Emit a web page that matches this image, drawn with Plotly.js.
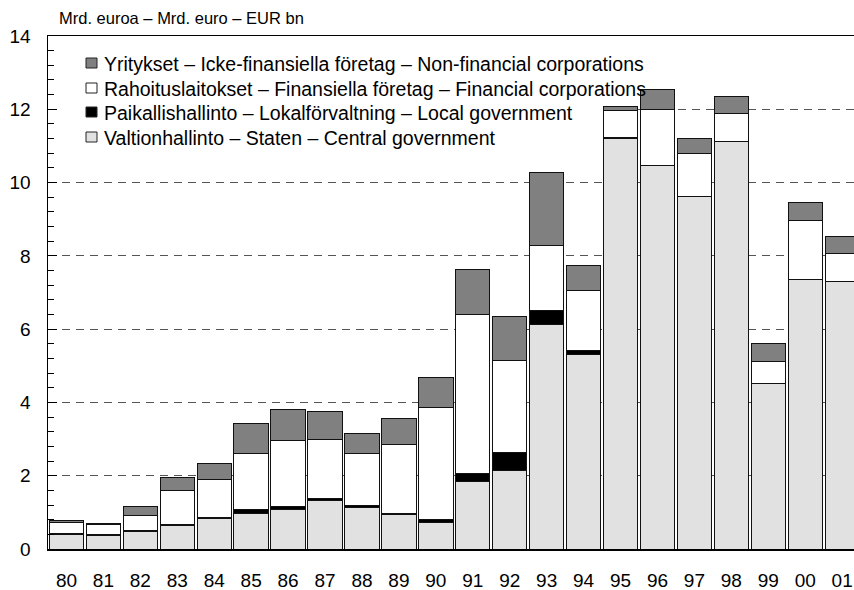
<!DOCTYPE html>
<html>
<head>
<meta charset="utf-8">
<script src="https://cdn.plot.ly/plotly-3.0.1.min.js"></script>
<style>html,body{margin:0;padding:0;background:#fff;}#chart{width:854px;height:590px;}</style>
</head>
<body>
<div id="chart"></div>
<script>
const years = ["80","81","82","83","84","85","86","87","88","89","90","91","92","93","94","95","96","97","98","99","00","01"];
const central = [0.40,0.38,0.49,0.65,0.84,0.98,1.07,1.33,1.13,0.93,0.72,1.84,2.15,6.13,5.30,11.20,10.46,9.63,11.13,4.51,7.36,7.31];
const local   = [0.01,0.01,0.01,0.01,0.02,0.11,0.09,0.06,0.06,0.05,0.09,0.23,0.48,0.39,0.11,0.02,0.00,0.00,0.00,0.00,0.00,0.00];
const financial = [0.31,0.27,0.41,0.94,1.04,1.51,1.79,1.59,1.42,1.86,3.06,4.32,2.52,1.76,1.65,0.76,1.54,1.17,0.76,0.61,1.61,0.76];
const nonfinancial = [0.07,0.03,0.24,0.35,0.43,0.83,0.85,0.77,0.53,0.72,0.81,1.24,1.19,1.99,0.69,0.10,0.55,0.41,0.46,0.49,0.48,0.45];
const seriesNames = [
  "Valtionhallinto – Staten – Central government",
  "Paikallishallinto – Lokalförvaltning – Local government",
  "Rahoituslaitokset – Finansiella företag – Financial corporations",
  "Yritykset – Icke-finansiella företag – Non-financial corporations"
];
const seriesColors = ["#e1e1e1","#000000","#ffffff","#808080"];
const unitTitle = "Mrd. euroa – Mrd. euro – EUR bn";

const W = 854, H = 590;
const M = {l:48, r:0, t:36, b:41};
const PW = W - M.l - M.r, PH = H - M.t - M.b;
const px = x => (x - M.l) / PW;
const py = y => (H - M.b - y) / PH;

const FONT = '"Liberation Sans", Arial, sans-serif';
const values = [central, local, financial, nonfinancial];

const traces = values.map((v, i) => ({
  type: 'bar',
  x: years,
  y: v,
  name: seriesNames[i],
  marker: {color: seriesColors[i], line: {color: '#111', width: 1}},
  showlegend: false,
  hoverinfo: 'x+y+name'
}));

// legend background box (hides the gridline behind the legend)
const shapes = [{
  type: 'rect', xref: 'paper', yref: 'paper', layer: 'above',
  x0: px(57), x1: px(602), y0: py(160), y1: py(44),
  fillcolor: '#ffffff', line: {width: 0}
}];
const annotations = [];
const legendOrder = [3, 2, 1, 0];
const rowY = [63, 88, 112, 137];
legendOrder.forEach((si, r) => {
  const cy = rowY[r];
  shapes.push({
    type: 'rect', xref: 'paper', yref: 'paper', layer: 'above',
    x0: px(86), x1: px(97), y0: py(cy + 5), y1: py(cy - 5),
    fillcolor: seriesColors[si], line: {color: '#222', width: 1}
  });
  annotations.push({
    xref: 'paper', yref: 'paper', x: px(102), y: py(cy + 1),
    xanchor: 'left', yanchor: 'middle', showarrow: false,
    text: seriesNames[si], font: {family: FONT, size: 19.5, color: '#000'}
  });
});

const layout = {
  width: W, height: H,
  margin: M,
  paper_bgcolor: '#fff', plot_bgcolor: '#fff',
  barmode: 'stack',
  bargap: 0.07,
  font: {family: FONT, color: '#000'},
  title: {
    text: unitTitle, xref: 'container', yref: 'container',
    x: 59 / W, xanchor: 'left', y: 1 - 18 / H, yanchor: 'middle',
    font: {family: FONT, size: 16.5, color: '#000'}
  },
  xaxis: {
    type: 'category',
    range: [-0.5, 21.32],
    showline: true, linecolor: '#000', linewidth: 1.5,
    mirror: true,
    ticks: '', showgrid: false,
    ticklabelstandoff: 14,
    tickfont: {family: FONT, size: 19, color: '#000'},
    fixedrange: true
  },
  yaxis: {
    range: [0, 14],
    dtick: 2, tick0: 0,
    showline: true, linecolor: '#000', linewidth: 1.5,
    ticks: 'inside', ticklen: 9, tickcolor: '#000', tickwidth: 1,
    minor: {dtick: 0.4, ticks: 'inside', ticklen: 6, tickcolor: '#000', tickwidth: 1, showgrid: false},
    showgrid: true, gridcolor: '#555', gridwidth: 1, griddash: '8px,6px',
    zeroline: false,
    ticklabelstandoff: 12,
    tickfont: {family: FONT, size: 19, color: '#000'},
    fixedrange: true
  },
  shapes: shapes,
  annotations: annotations
};

Plotly.newPlot('chart', traces, layout, {displayModeBar: false, staticPlot: true});
</script>
</body>
</html>
